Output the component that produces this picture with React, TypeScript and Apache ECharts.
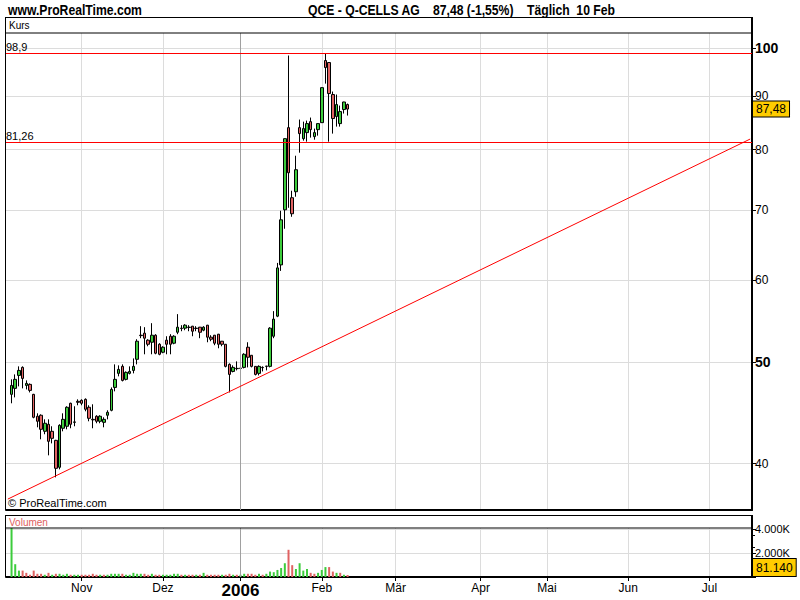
import React, { useEffect, useRef } from 'react';
import * as echarts from 'echarts';

const FONT = "'Liberation Sans Narrow','Arial Narrow','Liberation Sans',Arial,sans-serif";

// OHLC per trading day (Oct 5 2005 .. Feb 10 2006)
const candleOpen = [
  46.60, 47.22, 48.59, 49.46, 47.53, 47.64, 46.60, 44.40, 44.50, 42.95,
  43.62, 42.95, 42.10, 39.67, 43.24, 43.43, 45.69, 43.81, 45.89, 45.99,
  46.09, 45.29, 44.10, 44.40, 43.91, 43.81, 44.50, 44.99, 47.32, 48.81,
  49.57, 48.17, 48.81, 49.13, 50.35, 53.10, 53.34, 52.52, 52.28, 53.10,
  52.05, 51.14, 52.52, 52.98, 52.17, 53.45, 53.93, 53.93, 54.05, 54.17,
  53.93, 54.05, 53.69, 54.29, 52.87, 53.10, 53.22, 52.40, 52.05, 49.79,
  49.02, 49.35, 49.35, 49.46, 51.71, 50.80, 49.57, 48.81, 49.46, 49.57,
  49.57, 52.98, 55.38, 62.02, 70.04, 83.97, 71.93, 72.89, 83.97, 81.95,
  83.05, 85.09, 82.32, 83.60, 84.90, 97.38, 96.95, 90.33, 86.05, 84.72,
  87.39, 88.36,
];
const candleClose = [
  47.53, 48.17, 49.13, 48.27, 47.74, 47.01, 44.30, 43.91, 43.14, 43.72,
  42.01, 42.29, 39.58, 43.52, 44.10, 45.29, 43.62, 43.85, 45.79, 45.69,
  45.09, 44.20, 44.05, 43.91, 44.40, 44.10, 44.79, 47.11, 48.17, 49.24,
  48.06, 48.92, 49.02, 49.57, 52.40, 53.05, 52.75, 52.05, 53.10, 51.03,
  50.91, 51.71, 52.05, 52.05, 52.98, 54.05, 53.90, 54.29, 54.02, 53.57,
  53.90, 53.45, 54.05, 52.87, 52.63, 52.17, 52.05, 52.05, 49.57, 48.70,
  49.46, 49.32, 49.38, 50.91, 50.58, 49.57, 48.70, 49.57, 49.43, 49.60,
  53.93, 55.02, 61.61, 68.51, 81.95, 76.01, 69.43, 76.52, 82.87, 83.79,
  84.72, 83.60, 83.05, 84.72, 91.72, 95.88, 90.53, 85.67, 88.36, 87.00,
  88.86, 87.48,
];
const candleLow = [
  45.69, 46.29, 47.43, 47.22, 47.11, 46.80, 44.20, 43.33, 42.20, 42.67,
  40.73, 41.82, 38.80, 39.49, 42.95, 43.14, 43.24, 43.43, 45.49, 45.49,
  44.89, 43.91, 43.24, 43.72, 43.72, 43.33, 44.10, 44.89, 46.91, 48.49,
  47.95, 48.06, 48.70, 48.81, 49.79, 52.75, 50.91, 51.82, 50.91, 50.91,
  50.80, 51.03, 50.91, 50.91, 52.05, 53.22, 53.57, 53.69, 53.57, 52.98,
  53.57, 52.75, 53.57, 52.28, 52.40, 51.94, 51.59, 51.82, 49.46, 46.80,
  48.92, 49.13, 49.13, 49.35, 49.46, 49.46, 48.59, 48.59, 49.02, 49.13,
  49.46, 52.75, 55.26, 61.20, 67.17, 70.35, 68.97, 72.09, 79.45, 81.59,
  81.41, 82.14, 81.77, 82.50, 84.85, 92.54, 81.41, 82.87, 84.16, 84.16,
  86.62, 86.24,
];
const candleHigh = [
  48.17, 48.70, 49.57, 49.57, 48.06, 47.74, 46.65, 44.69, 44.59, 44.10,
  44.10, 43.43, 42.15, 43.62, 44.69, 45.39, 45.75, 45.39, 46.09, 46.09,
  46.19, 45.49, 45.59, 44.50, 44.50, 44.30, 44.99, 47.32, 49.79, 49.68,
  49.79, 49.02, 49.57, 50.45, 52.63, 54.17, 54.05, 52.63, 54.53, 53.22,
  52.17, 51.82, 52.98, 53.22, 53.10, 55.63, 54.29, 54.41, 54.29, 54.20,
  54.17, 54.08, 54.17, 54.32, 53.10, 53.13, 53.25, 52.43, 52.08, 49.90,
  49.68, 50.12, 49.46, 51.03, 52.28, 50.82, 49.60, 49.68, 49.57, 49.62,
  54.05, 56.00, 62.29, 69.89, 82.00, 98.46, 73.05, 78.92, 85.48, 85.09,
  85.28, 85.86, 83.79, 84.75, 91.80, 98.90, 97.00, 90.93, 90.33, 88.16,
  88.90, 88.55,
];
// volume in thousands of shares
const volumeK = [
  4100, 1067, 533, 533, 347, 187, 533, 267, 267, 187,
  347, 187, 267, 267, 187, 267, 187, 187, 187, 187,
  187, 187, 267, 187, 187, 187, 187, 267, 267, 267,
  267, 187, 187, 347, 267, 267, 267, 187, 267, 187,
  187, 187, 187, 187, 267, 267, 187, 187, 187, 187,
  187, 187, 347, 187, 187, 187, 187, 187, 187, 267,
  187, 187, 187, 267, 267, 267, 187, 267, 187, 267,
  453, 400, 587, 747, 1147, 2267, 987, 667, 1147, 533,
  667, 347, 267, 347, 587, 827, 827, 453, 347, 347,
  187, 81.14,
];

const priceTicks = [40, 50, 60, 70, 80, 90, 100];
const boldTicks = [50, 100];
const priceMin = 36.10;
const priceMax = 103.48;
const volumeMax = 4083;
const volumeTicks = [0, 2000, 4000];
const resistanceLevel = 98.9;
const supportLevel = 81.26;
const trendStartPrice = 36.98;
const trendEndPrice = 81.88;
const lastClose = 87.48;
const lastVolumeLabel = '81.140';
const holidays = ['2005-12-26', '2006-04-14', '2006-04-17', '2006-05-01'];
const monthNames = ['Jan', 'Feb', 'Mär', 'Apr', 'Mai', 'Jun', 'Jul', 'Aug', 'Sep', 'Okt', 'Nov', 'Dez'];

const GREEN = '#3ccc3c';
const RED = '#e06262';
const LINE_RED = '#ff0000';

function buildDays(start: string, count: number): string[] {
  const out: string[] = [];
  const d = new Date(start + 'T00:00:00Z');
  while (out.length < count) {
    const dow = d.getUTCDay();
    const s = d.toISOString().slice(0, 10);
    if (dow !== 0 && dow !== 6 && holidays.indexOf(s) < 0) out.push(s);
    d.setUTCDate(d.getUTCDate() + 1);
  }
  return out;
}

const days = buildDays('2005-10-04', 202);
const isMonthStart = (i: number) => i > 0 && days[i].slice(5, 7) !== days[i - 1].slice(5, 7);
const newYearDay = days.find((d) => d.startsWith('2006-01')) as string;

const L = (v: number) => Math.log10(v);

export default function App() {
  const ref = useRef<HTMLDivElement>(null);
  useEffect(() => {
    if (!ref.current) return;
    const chart = echarts.init(ref.current, null, { renderer: 'svg' });

    const candleData = days.map((_, i) => {
      const k = i - 1;
      if (k < 0 || k >= candleOpen.length) return ['-', '-', '-', '-'];
      return [L(candleOpen[k]), L(candleClose[k]), L(candleLow[k]), L(candleHigh[k])];
    });
    const volData = days.map((_, i) => {
      const k = i - 1;
      if (k < 0 || k >= volumeK.length) return '-';
      const up = k === 0 ? candleClose[0] >= candleOpen[0] : candleClose[k] >= candleClose[k - 1];
      return { value: volumeK[k], itemStyle: { color: up ? GREEN : RED } };
    });
    const empty = days.map(() => '-');

    const monthInterval = (index: number) => isMonthStart(index);
    const monthLabel = (value: string) => {
      const m = +value.slice(5, 7);
      if (m === 1) return '{y|' + value.slice(0, 4) + '}';
      return monthNames[m - 1];
    };
    const redStyle = { color: LINE_RED, type: 'solid', width: 1, opacity: 1 };
    const levelSeries = (level: number, text: string) => ({
      type: 'line', xAxisIndex: 0, yAxisIndex: 0, data: empty, z: 4, silent: true, clip: false,
      itemStyle: { color: LINE_RED }, lineStyle: { color: LINE_RED },
      markLine: {
        silent: true, symbol: 'none', animation: false, precision: 8,
        lineStyle: redStyle,
        label: { show: true, position: 'insideStartTop', formatter: text, color: '#000', fontSize: 11, fontFamily: FONT, distance: [0, 1] },
        data: [{ yAxis: L(level), lineStyle: redStyle }],
      },
    });
    const boxLabel = (text: string, size: number, extra: any) => ({
      show: true, position: 'end', formatter: text, color: '#000', fontSize: size, fontFamily: FONT, distance: 1,
      backgroundColor: '#ffcc00', borderColor: '#000', borderWidth: 1, ...extra,
    });

    const option: any = {
      animation: false,
      textStyle: { fontFamily: FONT },
      grid: [
        { left: 6, top: 33, width: 746, height: 477 },
        { left: 6, top: 528, width: 746, height: 49 },
      ],
      xAxis: [
        {
          type: 'category', gridIndex: 0, data: days, boundaryGap: true,
          axisLine: { lineStyle: { color: '#000', width: 2 } },
          axisTick: { show: false }, axisLabel: { show: false },
          splitLine: { show: true, interval: monthInterval, alignWithLabel: true, lineStyle: { color: '#dcdcdc', width: 1 } },
        },
        {
          type: 'category', gridIndex: 1, data: days, boundaryGap: true,
          axisLine: { lineStyle: { color: '#000', width: 2 } },
          axisTick: { show: true, interval: monthInterval, alignWithLabel: true, length: 4, lineStyle: { color: '#000' } },
          axisLabel: {
            interval: monthInterval, formatter: monthLabel, margin: 5, color: '#000', fontSize: 12, fontFamily: FONT,
            rich: { y: { fontWeight: 'bold', fontSize: 17, fontFamily: FONT, color: '#000' } },
          },
          splitLine: { show: true, interval: monthInterval, alignWithLabel: true, lineStyle: { color: '#dcdcdc', width: 1 } },
        },
      ],
      yAxis: [
        {
          type: 'value', gridIndex: 0, position: 'right', min: L(priceMin), max: L(priceMax),
          axisLine: { show: true, lineStyle: { color: '#000', width: 2 } },
          axisTick: { show: true, customValues: priceTicks.map(L), length: 4, lineStyle: { color: '#000' } },
          axisLabel: {
            customValues: priceTicks.map(L), margin: 3, color: '#000', fontSize: 12, fontFamily: FONT,
            formatter: (v: number) => {
              const p = Math.round(Math.pow(10, v));
              return boldTicks.indexOf(p) >= 0 ? '{b|' + p + '}' : String(p);
            },
            rich: { b: { fontWeight: 'bold', fontSize: 14, fontFamily: FONT, color: '#000' } },
          },
          splitLine: { show: true, lineStyle: { color: '#dcdcdc', width: 1 } },
        },
        {
          type: 'value', gridIndex: 1, position: 'right', min: 0, max: volumeMax,
          axisLine: { show: true, lineStyle: { color: '#000', width: 2 } },
          axisTick: { show: true, customValues: volumeTicks, length: 4, lineStyle: { color: '#000' } },
          minorTick: { show: true, splitNumber: 2, length: 3, lineStyle: { color: '#000' } },
          axisLabel: {
            customValues: volumeTicks, margin: 3, color: '#000', fontSize: 11, fontFamily: FONT,
            formatter: (v: number) => (v === 0 ? '' : (v / 1000).toFixed(3) + 'K'),
          },
          splitLine: { show: true, lineStyle: { color: '#dcdcdc', width: 1 } },
        },
      ],
      series: [
        {
          type: 'line', xAxisIndex: 0, yAxisIndex: 0, data: empty, z: 1, silent: true,
          markLine: {
            silent: true, symbol: 'none', animation: false, label: { show: false },
            lineStyle: { color: '#a0a0a0', type: 'solid', width: 1 },
            data: [{ xAxis: newYearDay }],
          },
        },
        {
          type: 'line', xAxisIndex: 1, yAxisIndex: 1, data: empty, z: 1, silent: true,
          markLine: {
            silent: true, symbol: 'none', animation: false, label: { show: false },
            lineStyle: { color: '#a0a0a0', type: 'solid', width: 1 },
            data: [{ xAxis: newYearDay }],
          },
        },
        {
          type: 'candlestick', xAxisIndex: 0, yAxisIndex: 0, data: candleData, barWidth: 3, z: 3,
          itemStyle: { color: GREEN, color0: RED, borderColor: '#000', borderColor0: '#000', borderWidth: 1 },
        },
        levelSeries(resistanceLevel, '98,9'),
        levelSeries(supportLevel, '81,26'),
        {
          type: 'line', xAxisIndex: 0, yAxisIndex: 0, data: empty, z: 4, silent: true, clip: false,
          itemStyle: { color: LINE_RED },
          markLine: {
            silent: true, symbol: 'none', animation: false, precision: 8, label: { show: false },
            lineStyle: redStyle,
            data: [[
              { name: 'Trend', coord: [days[0], L(trendStartPrice)], lineStyle: redStyle },
              { coord: [days[days.length - 1], L(trendEndPrice)] },
            ]],
          },
        },
        {
          type: 'line', xAxisIndex: 0, yAxisIndex: 0, data: empty, z: 5, silent: true, clip: false,
          markLine: {
            silent: true, symbol: 'none', animation: false, precision: 8,
            lineStyle: { color: 'rgba(0,0,0,0)', width: 0 },
            data: [{ yAxis: L(lastClose), label: boxLabel('87,48', 12, { padding: [2, 3, 1, 3] }) }],
          },
        },
        {
          type: 'bar', xAxisIndex: 1, yAxisIndex: 1, data: volData, barWidth: 2, z: 3, barMinHeight: 2,
        },
        {
          type: 'line', xAxisIndex: 1, yAxisIndex: 1, data: empty, z: 5, silent: true, clip: false,
          markLine: {
            silent: true, symbol: 'none', animation: false, precision: 8,
            lineStyle: { color: 'rgba(0,0,0,0)', width: 0 },
            data: [{
              yAxis: volumeK[volumeK.length - 1],
              label: boxLabel(lastVolumeLabel, 12, { verticalAlign: 'bottom', padding: [3, 3, 2, 3] }),
            }],
          },
        },
      ],
      graphic: [
        { type: 'text', x: 8, y: 3, scaleX: 0.87, style: { text: 'www.ProRealTime.com', font: 'bold 14px ' + FONT, fill: '#000' } },
        { type: 'text', x: 308, y: 3, scaleX: 0.87, style: { text: 'QCE - Q-CELLS AG', font: 'bold 14px ' + FONT, fill: '#000' } },
        { type: 'text', x: 433, y: 3, scaleX: 0.87, style: { text: '87,48 (-1,55%)', font: 'bold 14px ' + FONT, fill: '#000' } },
        { type: 'text', x: 527, y: 3, scaleX: 0.87, style: { text: 'Täglich  10 Feb', font: 'bold 14px ' + FONT, fill: '#000' } },
        { type: 'rect', z: 100, shape: { x: 5.5, y: 17.5, width: 746.5, height: 15.5 }, style: { fill: 'none', stroke: '#000', lineWidth: 1 } },
        { type: 'text', z: 100, x: 9, y: 25, style: { text: 'Kurs', font: '10px ' + FONT, fill: '#000', verticalAlign: 'middle' } },
        { type: 'line', z: 100, shape: { x1: 5.5, y1: 17, x2: 5.5, y2: 510 }, style: { stroke: '#000', lineWidth: 1 } },
        { type: 'line', z: 100, shape: { x1: 752, y1: 17, x2: 752, y2: 34 }, style: { stroke: '#000', lineWidth: 2 } },
        { type: 'text', z: 100, x: 8, y: 503, style: { text: '© ProRealTime.com', font: '11px ' + FONT, fill: '#000', verticalAlign: 'middle' } },
        { type: 'rect', z: 100, shape: { x: 5.5, y: 515.5, width: 746.5, height: 12.5 }, style: { fill: 'none', stroke: '#000', lineWidth: 1 } },
        { type: 'text', z: 100, x: 9, y: 522, style: { text: 'Volumen', font: '10px ' + FONT, fill: '#e06060', verticalAlign: 'middle' } },
        { type: 'line', z: 100, shape: { x1: 5.5, y1: 515, x2: 5.5, y2: 577 }, style: { stroke: '#000', lineWidth: 1 } },
        { type: 'line', z: 100, shape: { x1: 752, y1: 515, x2: 752, y2: 529 }, style: { stroke: '#000', lineWidth: 2 } },
      ],
    };
    chart.setOption(option);
    return () => chart.dispose();
  }, []);
  return <div ref={ref} style={{ position: 'absolute', left: 0, top: 0, width: 800, height: 600, background: '#fff' }} />;
}
